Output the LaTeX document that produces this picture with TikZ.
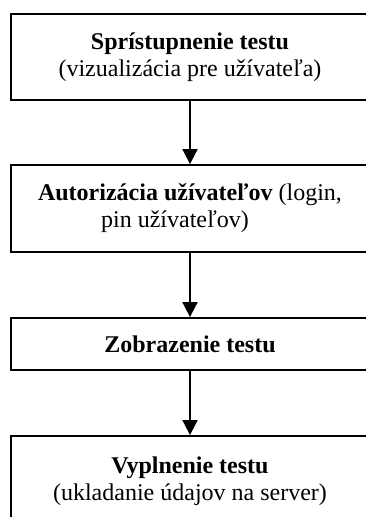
\documentclass[tikz,border=0pt]{standalone}
\usepackage{fontspec}
\setmainfont{Liberation Serif}
\usetikzlibrary{arrows.meta}
\begin{document}
\begin{tikzpicture}[x=1pt,y=-1pt,
  box/.style={draw,line width=1.8pt,minimum width=358pt,inner sep=0pt,align=center,
    font=\fontsize{24}{27}\selectfont},
  arr/.style={line width=1.8pt,-{Triangle[width=15pt,length=15pt]}}]
\useasboundingbox (0,0) rectangle (366,517);
\clip (0,0) rectangle (366,517);
\node[box,minimum height=86pt] (b1) at (190,57)
  {\textbf{Sprístupnenie testu}\\(vizualizácia pre užívateľa)};
\node[box,minimum height=87pt] (b2) at (190,208.5)
  {\textbf{Autorizácia užívateľov} (login,\\pin užívateľov)\hspace*{30pt}};
\node[box,minimum height=52pt] (b3) at (190,344)
  {\textbf{Zobrazenie testu}};
\node[box,minimum height=90pt] (b4) at (190,481)
  {\textbf{Vyplnenie testu}\\(ukladanie údajov na server)};
\draw[arr] (b1) -- (b2);
\draw[arr] (b2) -- (b3);
\draw[arr] (b3) -- (b4);
\end{tikzpicture}
\end{document}
